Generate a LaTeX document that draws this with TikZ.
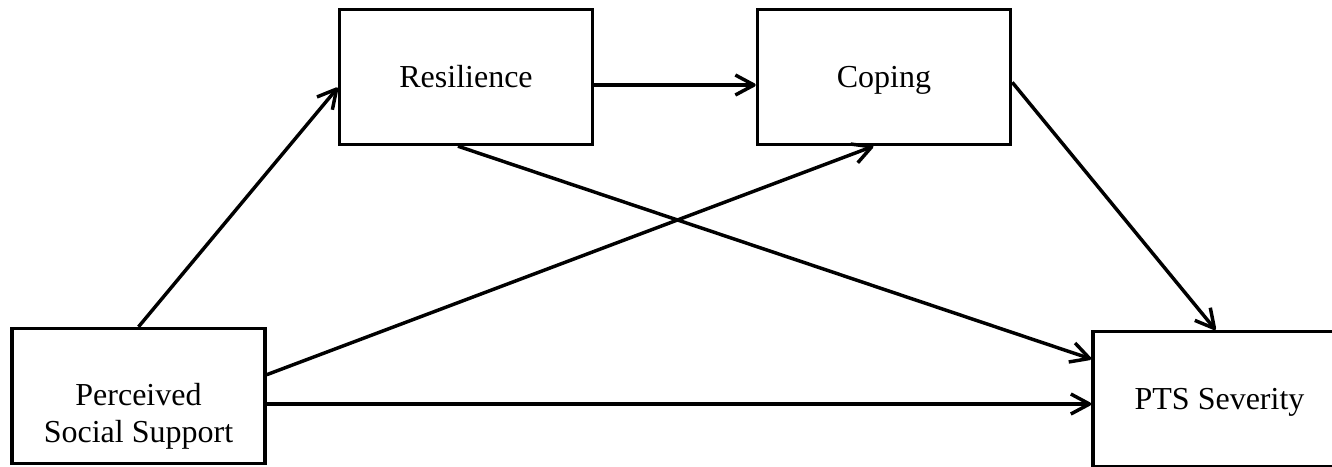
\documentclass[tikz,border=0pt]{standalone}
\usepackage{fontspec}
\setmainfont{Liberation Serif}
\usetikzlibrary{arrows.meta, positioning, calc}

\begin{document}
\begin{tikzpicture}[x=0.375pt, y=-0.375pt,
  varbox/.style={draw, line width=1.3pt, minimum width=94.9pt, minimum height=50.6pt,
    inner sep=0pt, text height=8.2pt, text depth=0pt, font=\fontsize{12}{14}\selectfont},
  link/.style={line width=1.3pt, -{Straight Barb[length=7pt,width=7.5pt,line join=round]}}]
\clip (0,0) rectangle (1332,466);

% Variables
\node[varbox] (res) at (466,77) {Resilience};
\node[varbox] (cop) at (884,77) {Coping};
\node[varbox, label={[align=center,yshift=-7.5pt,font=\fontsize{12}{14}\selectfont]center:{Perceived\\Social Support}}] (pss) at (138.5,396) {};
\node[varbox] (pts) at (1219.5,399) {PTS Severity};

% Paths from social support
\draw[link] (pss.north) -- ([yshift=-4pt]res.west);
\draw[link] ([yshift=8pt]pss.east) -- ([xshift=-4pt]cop.south);
\draw[link] ([yshift=-3pt]pss.east) -- ([yshift=-3pt]pss.east -| pts.west);

% Paths through the mediators
\draw[link] ([yshift=-3pt]res.east) -- ([yshift=-3pt]cop.west);
\draw[link] ([xshift=-3pt]res.south) -- ([yshift=15pt]pts.west);
\draw[link] ([yshift=-2pt]cop.east) -- ([xshift=-1.5pt]pts.north);
\end{tikzpicture}
\end{document}
